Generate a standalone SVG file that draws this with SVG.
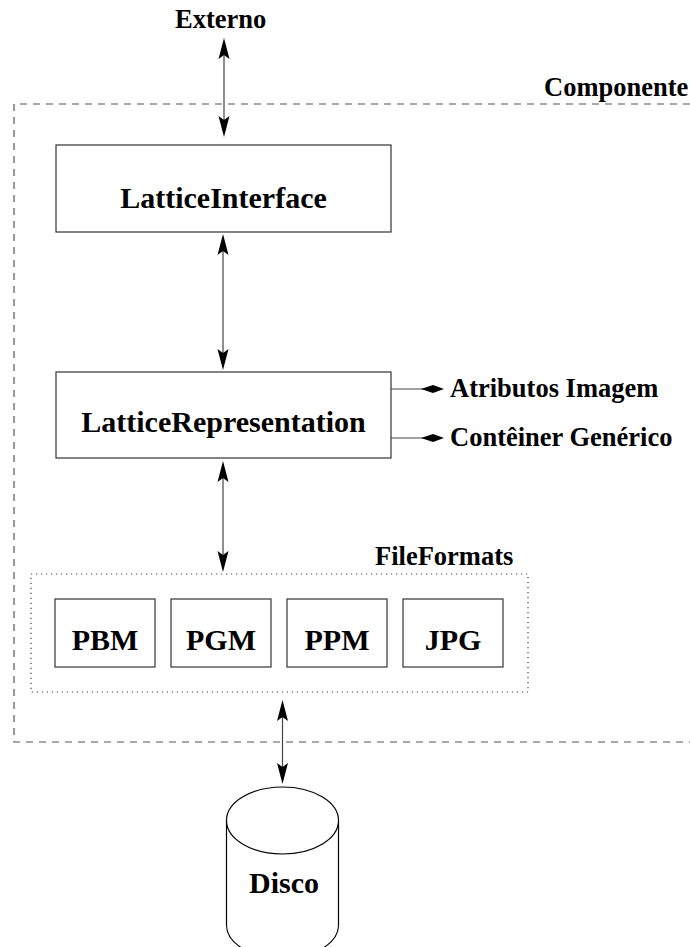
<svg xmlns="http://www.w3.org/2000/svg" width="690" height="947" viewBox="0 0 690 947">
  <style>
    .box { fill: #ffffff; stroke: #333333; stroke-width: 1.2; }
    .lbl { font-family: "Liberation Serif", "Times New Roman", serif; font-weight: bold; fill: #000000; }
    .big { font-size: 30px; text-anchor: middle; }
    .small { font-size: 26.5px; }
    .wire { stroke: #444444; stroke-width: 1.2; fill: none; }
    .head { fill: #000000; stroke: none; }
  </style>
  <defs>
    <!-- downward-pointing filled head, tip at origin -->
    <path id="hd" class="head" d="M0,0 L-5.5,-21 L0,-17 L5.5,-21 Z"/>
    <!-- upward-pointing filled head, tip at origin -->
    <path id="hu" class="head" d="M0,0 L-5.5,21 L0,17 L5.5,21 Z"/>
    <!-- rightward small head, tip at origin -->
    <path id="hr" class="head" d="M0,0 L-11,-4 L-23,0 L-11,4 Z"/>
  </defs>

  <!-- component boundary (open on the right) -->
  <g id="componente">
    <path d="M690,104 H14 V742 H690" fill="none" stroke="#555555" stroke-width="1.2" stroke-dasharray="7,6"/>
    <text class="lbl small" x="544" y="96">Componente</text>
  </g>

  <g id="externo">
    <text class="lbl small" x="175" y="28">Externo</text>
  </g>

  <g id="lattice-interface">
    <rect class="box" x="56" y="145" width="335" height="87"/>
    <text class="lbl big" x="223.5" y="208">LatticeInterface</text>
  </g>

  <g id="lattice-representation">
    <rect class="box" x="56" y="372" width="335" height="86"/>
    <text class="lbl big" x="223.5" y="432">LatticeRepresentation</text>
  </g>

  <g id="atributos-imagem">
    <text class="lbl small" x="450" y="397">Atributos Imagem</text>
  </g>
  <g id="conteiner-generico">
    <text class="lbl small" x="450" y="446">Contêiner Genérico</text>
  </g>

  <g id="file-formats">
    <rect x="31" y="574" width="497" height="118" fill="none" stroke="#444444" stroke-width="1.2" stroke-dasharray="1.2,3.8"/>
    <text class="lbl small" x="375" y="565">FileFormats</text>
  </g>
  <g id="pbm">
    <rect class="box" x="55" y="599" width="100" height="68"/>
    <text class="lbl big" x="105" y="650">PBM</text>
  </g>
  <g id="pgm">
    <rect class="box" x="171" y="599" width="100" height="68"/>
    <text class="lbl big" x="221" y="650">PGM</text>
  </g>
  <g id="ppm">
    <rect class="box" x="287" y="599" width="100" height="68"/>
    <text class="lbl big" x="337" y="650">PPM</text>
  </g>
  <g id="jpg">
    <rect class="box" x="403" y="599" width="100" height="68"/>
    <text class="lbl big" x="453" y="650">JPG</text>
  </g>

  <g id="disco">
    <path d="M226.5,820.5 V925 A56,33.5 0 0 0 338.5,925 V820.5" fill="#ffffff" stroke="#000000" stroke-width="1.2"/>
    <ellipse cx="282.5" cy="820.5" rx="56" ry="33.5" fill="#ffffff" stroke="#000000" stroke-width="1.2"/>
    <text class="lbl big" x="284" y="893">Disco</text>
  </g>

  <g id="connectors">
    <!-- Externo <-> LatticeInterface -->
    <line class="wire" x1="224" y1="50" x2="224" y2="125"/>
    <use href="#hu" x="224" y="38"/>
    <use href="#hd" x="224" y="137"/>
    <!-- LatticeInterface <-> LatticeRepresentation -->
    <line class="wire" x1="223" y1="245" x2="223" y2="358"/>
    <use href="#hu" x="223" y="234"/>
    <use href="#hd" x="223" y="370"/>
    <!-- LatticeRepresentation <-> FileFormats -->
    <line class="wire" x1="223" y1="472" x2="223" y2="560"/>
    <use href="#hu" x="223" y="461"/>
    <use href="#hd" x="223" y="572"/>
    <!-- FileFormats <-> Disco -->
    <line class="wire" x1="282.5" y1="712" x2="282.5" y2="772"/>
    <use href="#hu" x="282.5" y="700"/>
    <use href="#hd" x="282.5" y="784"/>
    <!-- LatticeRepresentation -> outputs -->
    <line class="wire" x1="391" y1="389" x2="425" y2="389"/>
    <use href="#hr" x="444" y="389"/>
    <line class="wire" x1="391" y1="438" x2="425" y2="438"/>
    <use href="#hr" x="444" y="438"/>
  </g>
</svg>
